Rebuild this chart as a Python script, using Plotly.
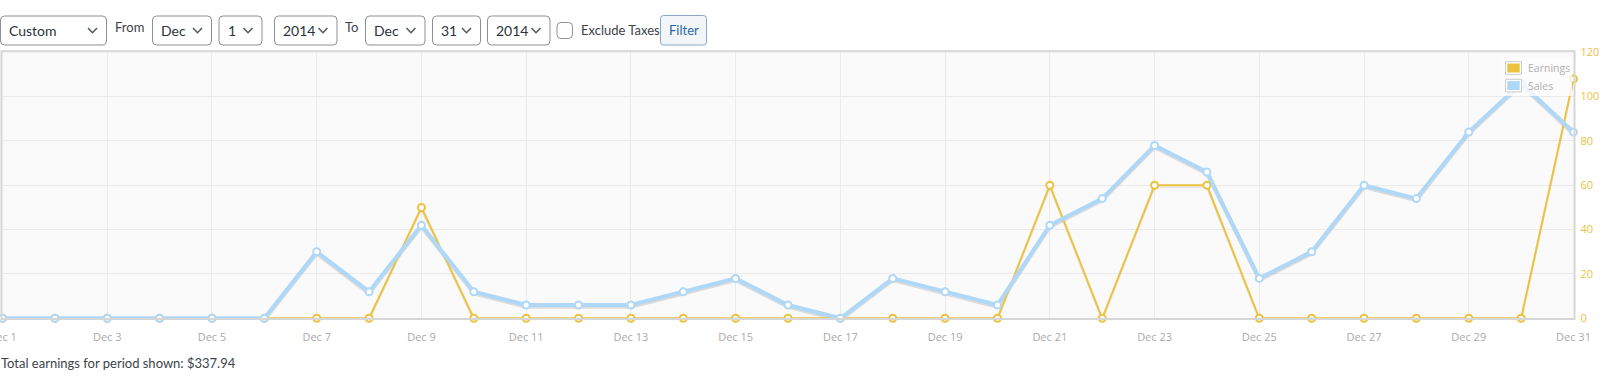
import plotly.graph_objects as go

# ---------------- data ----------------
days = list(range(1, 32))
earnings = [0, 0, 0, 0, 0, 0, 0, 0, 50, 0, 0, 0, 0, 0, 0, 0, 0, 0, 0, 0,
            60, 0, 60, 60, 0, 0, 0, 0, 0, 0, 107.94]
sales = [0, 0, 0, 0, 0, 0, 30, 12, 42, 12, 6, 6, 6, 12, 18, 6, 0, 18, 12, 6,
         42, 54, 78, 66, 18, 30, 60, 54, 84, 106, 84]
tick_days = [1, 3, 5, 7, 9, 11, 13, 15, 17, 19, 21, 23, 25, 27, 29, 31]
tick_labels = ["Dec 1", "Dec 3", "Dec 5", "Dec 7", "Dec 9", "Dec 11", "Dec 13",
               "Dec 15", "Dec 17", "Dec 19", "Dec 21", "Dec 23", "Dec 25",
               "Dec 27", "Dec 29", "Dec 31"]
y_ticks = [0, 20, 40, 60, 80, 100, 120]
series_names = ["Earnings", "Sales"]
total_text = "Total earnings for period shown: $337.94"

# ---------------- geometry helpers ----------------
W, H = 1600, 380
def px(x):
    return x / W
def py(y):
    return 1 - y / H

PL, PR, PT, PB = 2.5, 1573.5, 52.3, 318.3   # plot area in pixels

EARN_C = "#edc240"
SALES_C = "#afd8f8"
FONT = "Open Sans"
UIFONT = "Lato"

fig = go.Figure()

shadow_shift = 2.0 / ((PB - PT) / 120.0)

# invisible carrier trace for the primary (visible) axes
fig.add_trace(go.Scatter(x=days, y=sales, xaxis="x", yaxis="y", mode="markers",
                         marker=dict(opacity=0), hoverinfo="skip", showlegend=False))
# shadows (drawn under main lines)
fig.add_trace(go.Scatter(x=days, y=earnings, xaxis="x", yaxis="y2", mode="lines",
                         line=dict(color="rgba(0,0,0,0.07)", width=2),
                         hoverinfo="skip", showlegend=False))
fig.add_trace(go.Scatter(x=days, y=sales, xaxis="x", yaxis="y2", mode="lines",
                         line=dict(color="rgba(0,0,0,0.12)", width=3.5),
                         hoverinfo="skip", showlegend=False))
# main series
fig.add_trace(go.Scatter(x=days, y=earnings, xaxis="x", yaxis="y3", name=series_names[0],
                         mode="lines+markers", cliponaxis=False,
                         line=dict(color=EARN_C, width=2),
                         marker=dict(symbol="circle", size=7, color="#ffffff",
                                     line=dict(color=EARN_C, width=2)),
                         showlegend=False))
fig.add_trace(go.Scatter(x=days, y=sales, xaxis="x", yaxis="y3", name=series_names[1],
                         mode="lines+markers", cliponaxis=False,
                         line=dict(color=SALES_C, width=4),
                         marker=dict(symbol="circle", size=7, color="#ffffff",
                                     line=dict(color=SALES_C, width=2)),
                         showlegend=False))

shapes = []
annotations = []

def rrect(x0, y0, x1, y1, r, line_color, fill, width=1, layer="above"):
    pts = (f"M {px(x0+r)},{py(y0)} L {px(x1-r)},{py(y0)} Q {px(x1)},{py(y0)} {px(x1)},{py(y0+r)} "
           f"L {px(x1)},{py(y1-r)} Q {px(x1)},{py(y1)} {px(x1-r)},{py(y1)} "
           f"L {px(x0+r)},{py(y1)} Q {px(x0)},{py(y1)} {px(x0)},{py(y1-r)} "
           f"L {px(x0)},{py(y0+r)} Q {px(x0)},{py(y0)} {px(x0+r)},{py(y0)} Z")
    shapes.append(dict(type="path", path=pts, xref="paper", yref="paper",
                       line=dict(color=line_color, width=width), fillcolor=fill, layer=layer))

def chevron(cx, cy):
    p = f"M {px(cx-4.5)},{py(cy-2.5)} L {px(cx)},{py(cy+2.2)} L {px(cx+4.5)},{py(cy-2.5)}"
    shapes.append(dict(type="path", path=p, xref="paper", yref="paper",
                       line=dict(color="#50575e", width=1.5)))

def text(x, y, s, size=14, color="#2c3338", anchor="left", family=UIFONT):
    annotations.append(dict(x=px(x), y=py(y), xref="paper", yref="paper", text=s,
                            showarrow=False, xanchor=anchor, yanchor="middle",
                            font=dict(family=family, size=size, color=color),
                            borderpad=0))

# ---------------- control bar ----------------
TOP, BOT = 16, 45
CY = 30.5
selects = [  # (x0, x1, label)
    (0.5, 106.5, "Custom"),
    (152.5, 211.5, "Dec"),
    (219, 262, "1"),
    (274.5, 337, "2014"),
    (365.5, 425, "Dec"),
    (432.5, 480.5, "31"),
    (487.5, 550, "2014"),
]
for x0, x1, lab in selects:
    rrect(x0, TOP, x1, BOT, 4, "#8c8f94", "#ffffff")
    text(x0 + 7.5, CY, lab, size=14)
    chevron(x1 - 14, CY)

text(113.5, 27, "From", size=13, color="#3c434a")
text(343.5, 27, "To", size=13, color="#3c434a")
rrect(557, 22.5, 572.5, 38.5, 4, "#8c8f94", "#ffffff")
text(580, CY, "Exclude Taxes", size=13, color="#3c434a")
rrect(660.5, 15.5, 706.5, 45, 3, "#8aa6c6", "#f3f6f9")
text(683.5, CY, "Filter", size=13, color="#2a67a5", anchor="center")

# ---------------- plot border ----------------
shapes.append(dict(type="rect", xref="paper", yref="paper",
                   x0=px(1.5), x1=px(1574.5), y0=py(51.3), y1=py(319),
                   line=dict(color="#d6d6d6", width=2), fillcolor="rgba(0,0,0,0)",
                   layer="above"))

# ---------------- legend ----------------
shapes.append(dict(type="rect", xref="paper", yref="paper",
                   x0=px(1502), x1=px(1572), y0=py(58), y1=py(96),
                   line=dict(width=0), fillcolor="rgba(252,252,252,0.8)", layer="above"))
for i, (nm, col) in enumerate(zip(series_names, [EARN_C, SALES_C])):
    y0 = 61.7 + i * 17.6
    shapes.append(dict(type="rect", xref="paper", yref="paper",
                       x0=px(1505.5), x1=px(1521.5), y0=py(y0), y1=py(y0 + 12.6),
                       line=dict(color="#cccccc", width=1), fillcolor="#ffffff", layer="above"))
    shapes.append(dict(type="rect", xref="paper", yref="paper",
                       x0=px(1507.3), x1=px(1519.7), y0=py(y0 + 1.8), y1=py(y0 + 10.8),
                       line=dict(width=0), fillcolor=col, layer="above"))
    text(1526.5, y0 + 6.5, nm, size=10.5, color="#b0b0b0", family=FONT)

# ---------------- footer ----------------
text(0, 362.5, total_text, size=13, color="#3c434a")

# ---------------- layout ----------------
ydom = [py(PB), py(PT)]
fig.update_layout(
    width=W, height=H,
    margin=dict(l=0, r=0, t=0, b=0, autoexpand=False),
    paper_bgcolor="#ffffff",
    plot_bgcolor="#fafafa",
    showlegend=False,
    font=dict(family=FONT),
    shapes=shapes,
    annotations=annotations,
    xaxis=dict(domain=[px(PL), px(PR)], range=[1, 31], tickvals=tick_days,
               ticktext=tick_labels, showgrid=True, gridcolor="#ebebeb", gridwidth=1,
               zeroline=False, showline=False, ticks="", anchor="y",
               ticklabelstandoff=11, ticklabeloverflow="allow", automargin=False,
               tickfont=dict(family=FONT, size=11, color="#aaaaaa"),
               fixedrange=True),
    yaxis=dict(domain=ydom, range=[0, 120], tickvals=y_ticks, side="right",
               anchor="x", showgrid=True, gridcolor="#ebebeb", zeroline=False,
               showline=False, ticks="", ticklabeloverflow="allow", automargin=False,
               ticklabelstandoff=6,
               tickfont=dict(family=FONT, size=11, color="#ecbf45"),
               fixedrange=True),
    yaxis2=dict(domain=ydom, overlaying="y", anchor="x",
                range=[shadow_shift, 120 + shadow_shift], visible=False,
                fixedrange=True),
    yaxis3=dict(domain=ydom, overlaying="y", anchor="x", range=[0, 120],
                visible=False, fixedrange=True),
)

fig.write_html("out.html")
